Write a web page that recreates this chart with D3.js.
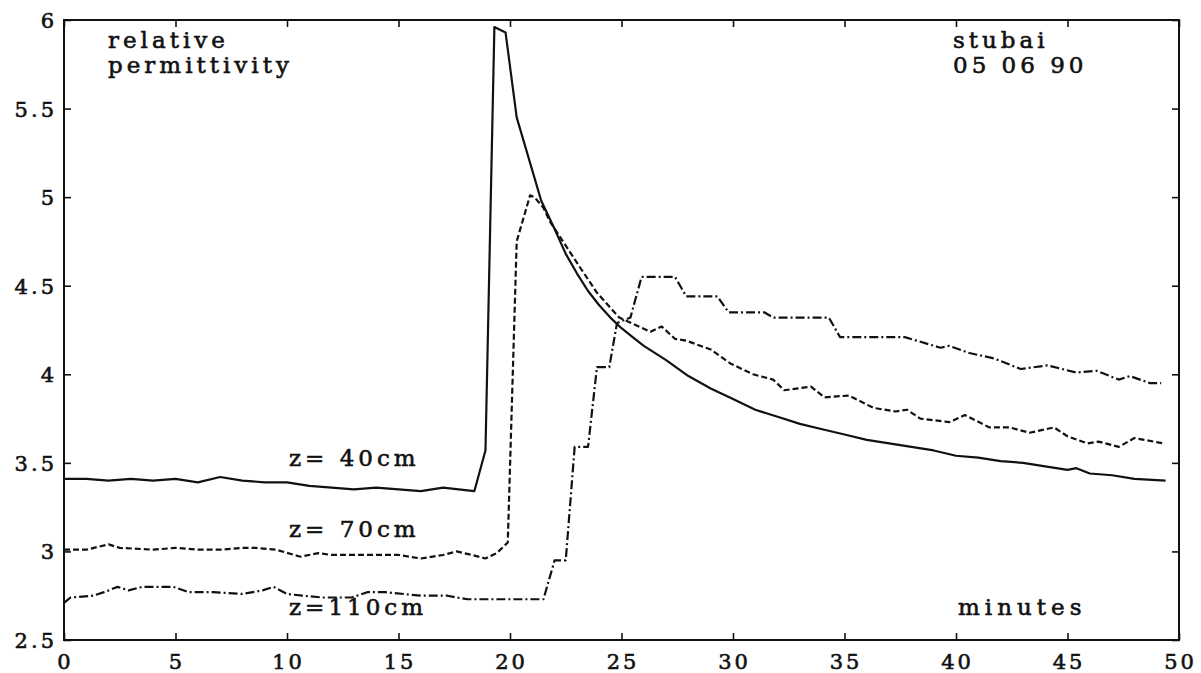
<!DOCTYPE html>
<html><head><meta charset="utf-8">
<script src="https://cdn.jsdelivr.net/npm/d3@7/dist/d3.min.js"></script>
<style>
body{margin:0;background:#fff;}
svg text{font-family:"DejaVu Serif",serif;fill:#111;stroke:#111;stroke-width:0.6px;}
</style></head>
<body><svg id="c" width="1201" height="673"></svg>
<script>
// ---- data ----
const xTicks = [0,5,10,15,20,25,30,35,40,45,50];
const yTicks = [2.5,3,3.5,4,4.5,5,5.5,6];
const xTickLabels = ["0","5","10","15","20","25","30","35","40","45","50"];
const yTickLabels = ["2.5","3","3.5","4","4.5","5","5.5","6"];

const z40x = [0,1,2,3,4,5,6,7,8,9,10,11,12,13,14,15,16,17,18.4,18.9,19.3,19.8,20.3,21.4,22,22.5,23,23.5,24,24.5,25,25.5,26,27,28,29,30,31,32,33,34,35,36,37,38,39,40,41,42,43,44,45,45.4,46,47,48,49.4];
const z40y = [3.41,3.41,3.40,3.41,3.40,3.41,3.39,3.42,3.40,3.39,3.39,3.37,3.36,3.35,3.36,3.35,3.34,3.36,3.34,3.57,5.96,5.93,5.45,4.98,4.82,4.68,4.57,4.47,4.39,4.32,4.26,4.21,4.16,4.08,3.99,3.92,3.86,3.80,3.76,3.72,3.69,3.66,3.63,3.61,3.59,3.57,3.54,3.53,3.51,3.50,3.48,3.46,3.47,3.44,3.43,3.41,3.40];

const z70x = [0,1,2,2.5,4,5,6,7,8,8.6,9.5,10.6,11.4,12,13,14,15,16,17,17.6,18.3,18.9,19.4,19.9,20.3,20.9,21.1,21.5,21.8,23,23.9,24.9,26.3,26.8,27.4,27.9,29,29.9,30.9,31.8,32.3,33.5,34.1,35.2,36.3,37.3,37.8,38.4,39.7,40.4,41.5,42.4,43.3,44.4,45,45.9,46.4,47.3,48,49.3];
const z70y = [3.01,3.01,3.04,3.02,3.01,3.02,3.01,3.01,3.02,3.02,3.01,2.97,2.99,2.98,2.98,2.98,2.98,2.96,2.98,3.00,2.98,2.96,2.99,3.05,4.75,5.01,5.00,4.94,4.86,4.63,4.46,4.32,4.24,4.27,4.20,4.19,4.14,4.06,4.00,3.97,3.91,3.93,3.87,3.88,3.81,3.79,3.80,3.75,3.73,3.77,3.70,3.70,3.67,3.70,3.65,3.61,3.62,3.59,3.64,3.61];

const z110x = [0,0.3,1.3,1.8,2.4,2.9,3.5,4.9,5.6,6.7,8,8.9,9.4,10,10.7,11.6,12.9,13.6,14.4,16,17.2,17.6,18.1,21.5,22,22.5,22.9,23.5,23.9,24.45,24.8,25.4,25.9,27.4,27.9,29.3,29.8,31.4,31.8,34.3,34.8,37.7,39.3,39.7,40.6,41.7,42.9,44.1,45.4,46.3,47.3,47.8,48.7,49.2];
const z110y = [2.71,2.74,2.75,2.77,2.80,2.78,2.80,2.80,2.77,2.77,2.76,2.78,2.80,2.76,2.75,2.74,2.74,2.77,2.77,2.75,2.75,2.74,2.73,2.73,2.95,2.95,3.59,3.59,4.04,4.04,4.29,4.32,4.55,4.55,4.44,4.44,4.35,4.35,4.32,4.32,4.21,4.21,4.15,4.16,4.12,4.09,4.03,4.05,4.01,4.02,3.97,3.99,3.95,3.95];

const seriesNames = ["z= 40cm","z= 70cm","z=110cm"];

// ---- drawing ----
const L=64,R=1179,T=20,B=640;
const svg=d3.select("#c");
const x=d3.scaleLinear().domain([0,50]).range([L,R]);
const y=d3.scaleLinear().domain([2.5,6]).range([B,T]);

const series=[
  {x:z40x,y:z40y,dash:null,w:2.2},
  {x:z70x,y:z70y,dash:"6,3",w:2.2},
  {x:z110x,y:z110y,dash:"9,3,2,3",w:2.2}
];
const line=d3.line().x(d=>x(d[0])).y(d=>y(d[1]));
series.forEach(s=>{
  const pts=s.x.map((v,i)=>[v,s.y[i]]);
  svg.append("path").datum(pts).attr("d",line)
    .attr("fill","none").attr("stroke","#111").attr("stroke-width",s.w)
    .attr("stroke-linejoin","round")
    .attr("stroke-dasharray",s.dash);
});

// frame
svg.append("rect").attr("x",L).attr("y",T).attr("width",R-L).attr("height",B-T)
  .attr("fill","none").attr("stroke","#111").attr("stroke-width",2);

// axes with inward ticks
const tk=7;
svg.append("g").attr("transform",`translate(0,${B})`)
  .call(d3.axisTop(x).tickValues(xTicks).tickSize(tk).tickFormat(""))
  .call(g=>g.select(".domain").remove());
svg.append("g").attr("transform",`translate(0,${T})`)
  .call(d3.axisBottom(x).tickValues(xTicks).tickSize(tk).tickFormat(""))
  .call(g=>g.select(".domain").remove());
svg.append("g").attr("transform",`translate(${L},0)`)
  .call(d3.axisRight(y).tickValues(yTicks).tickSize(tk).tickFormat(""))
  .call(g=>g.select(".domain").remove());
svg.append("g").attr("transform",`translate(${R},0)`)
  .call(d3.axisLeft(y).tickValues(yTicks).tickSize(tk).tickFormat(""))
  .call(g=>g.select(".domain").remove());
svg.selectAll(".tick line").attr("stroke","#111").attr("stroke-width",1.6);

// tick labels
const tfs=21, tls=3;
xTicks.forEach((v,i)=>{
  svg.append("text").attr("x",x(v)+tls/2).attr("y",669).attr("text-anchor","middle")
    .attr("font-size",tfs).attr("letter-spacing",tls).text(xTickLabels[i]);
});
yTicks.forEach((v,i)=>{
  svg.append("text").attr("x",54+tls).attr("y",y(v)+8).attr("text-anchor","end")
    .attr("font-size",tfs).attr("letter-spacing",tls).text(yTickLabels[i]);
});

// annotations
const fs=23, ls=4;
function txt(s,px,py,sp){svg.append("text").attr("x",px).attr("y",py).attr("font-size",fs).attr("letter-spacing",sp||ls).text(s);}
txt("relative",108,48);
txt("permittivity",108,73);
txt("stubai",953,48);
txt("05 06 90",953,73);
txt("minutes",958,615,5);
txt(seriesNames[0],289,466);
txt(seriesNames[1],289,537);
txt(seriesNames[2],289,615);
</script></body></html>
